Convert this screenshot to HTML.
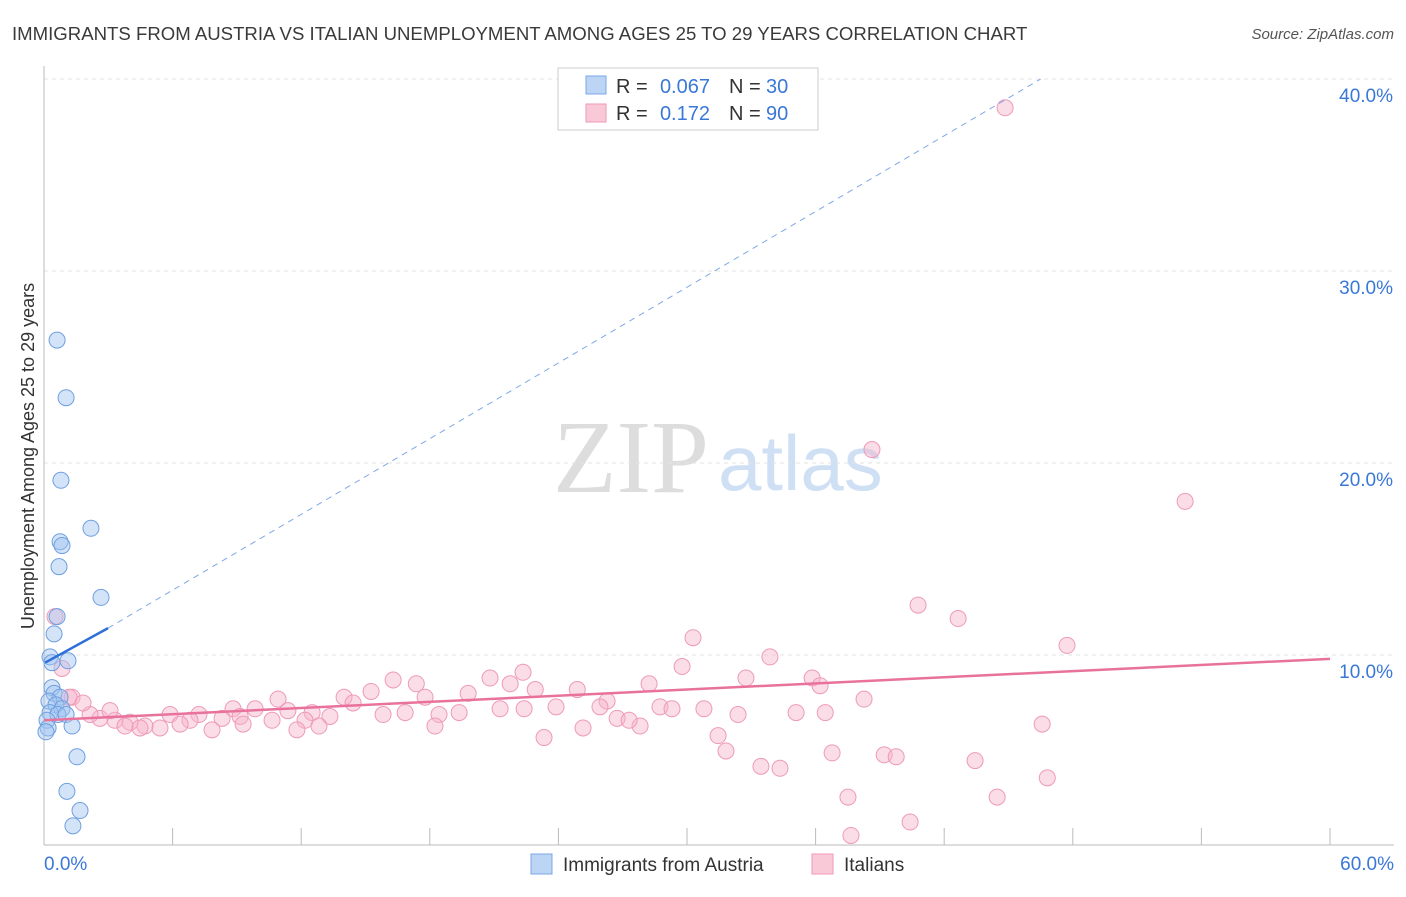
<!DOCTYPE html>
<html><head><meta charset="utf-8"><style>
body{margin:0;background:#fff;font-family:"Liberation Sans",sans-serif;}
#c{position:relative;width:1406px;height:892px;}
</style></head><body>
<div id="c">
<svg id="s" width="1406" height="892">
<text x="12" y="40" font-size="18.6" fill="#3a3a3a">IMMIGRANTS FROM AUSTRIA VS ITALIAN UNEMPLOYMENT AMONG AGES 25 TO 29 YEARS CORRELATION CHART</text>
<text x="1394" y="39" font-size="15" fill="#555" text-anchor="end" font-style="italic">Source: ZipAtlas.com</text>
<text x="34" y="456" font-size="18" fill="#333" text-anchor="middle" transform="rotate(-90 34 456)">Unemployment Among Ages 25 to 29 years</text>
<text x="553" y="492" font-size="104" fill="#ddd" font-family="Liberation Serif,serif">ZIP</text>
<text x="718" y="490" font-size="78" fill="#cfe0f5">atlas</text>
<g id="grid"></g><g id="marks"></g>
<g>
<rect x="558" y="68" width="260" height="62" fill="#fff" stroke="#ccc"/>
<rect x="586" y="76" width="20" height="18" fill="#bcd5f5" stroke="#7aa7e6"/>
<rect x="586" y="104" width="20" height="18" fill="#f9c9d8" stroke="#ee99b6"/>
<g font-size="20" fill="#333">
<text x="616" y="93">R =</text>
<text x="710" y="93" fill="#3a78d8" text-anchor="end">0.067</text>
<text x="729" y="93">N =</text>
<text x="766" y="93" fill="#3a78d8">30</text>
<text x="616" y="120">R =</text>
<text x="710" y="120" fill="#3a78d8" text-anchor="end">0.172</text>
<text x="729" y="120">N =</text>
<text x="766" y="120" fill="#3a78d8">90</text>
</g>
</g>
<g>
<rect x="531" y="854" width="21" height="20" fill="#bcd5f5" stroke="#7aa7e6"/>
<text x="563" y="871" font-size="19" fill="#333">Immigrants from Austria</text>
<rect x="812" y="854" width="21" height="20" fill="#f9c9d8" stroke="#ee99b6"/>
<text x="844" y="871" font-size="19" fill="#333">Italians</text>
</g>
</svg></div>
<script>
const xTicks=[0,6,12,18,24,30,36,42,48,54,60];
const yTicks=[10,20,30,40];
const blueX=[0.61,1.03,0.79,2.19,0.75,0.84,0.70,2.66,0.61,0.47,0.28,1.12,0.37,0.47,0.75,0.23,0.56,0.84,0.28,0.65,1.03,0.14,1.31,0.19,0.09,1.54,1.07,1.68,1.35,0.37];
const blueY=[26.4,23.4,19.1,16.6,15.9,15.7,14.6,13.0,12.0,11.1,9.9,9.7,8.3,8.0,7.8,7.6,7.4,7.2,7.0,6.9,6.9,6.6,6.3,6.2,6.0,4.7,2.9,1.9,1.1,9.6];
const pinkX=[44.84,38.63,53.24,40.78,42.65,47.73,30.28,33.87,29.77,22.35,20.81,16.29,32.75,35.84,36.21,28.23,17.37,21.75,22.92,24.88,15.26,14.0,19.79,10.92,17.78,26.27,38.26,14.42,11.38,8.82,9.85,7.23,5.88,12.51,18.43,19.37,21.28,22.40,23.89,25.94,28.74,29.30,30.79,35.09,36.45,32.38,15.82,16.85,13.34,12.18,10.64,9.15,8.31,6.81,6.35,5.41,4.71,4.01,3.31,2.61,2.15,1.31,0.84,0.51,3.78,4.48,7.84,9.29,12.83,11.80,18.24,25.15,26.74,27.81,27.30,23.33,31.45,31.82,36.77,39.20,39.76,43.44,46.57,33.45,34.34,37.51,44.47,46.81,40.41,37.65,1.17,1.82,3.08];
const pinkY=[38.5,20.7,18.0,12.6,11.9,10.5,10.9,9.9,9.4,9.1,8.8,8.7,8.8,8.8,8.4,8.5,8.5,8.5,8.2,8.2,8.1,7.8,8.0,7.7,7.8,7.6,7.7,7.5,7.1,7.2,7.2,6.9,6.9,7.0,6.9,7.0,7.2,7.2,7.3,7.3,7.3,7.2,7.2,7.0,7.0,6.9,6.9,7.0,6.8,6.6,6.6,6.8,6.7,6.6,6.4,6.2,6.3,6.5,6.6,6.7,6.9,7.8,9.3,12.0,6.3,6.2,6.1,6.4,6.3,6.1,6.3,6.2,6.7,6.3,6.6,5.7,5.8,5.0,4.9,4.8,4.7,4.5,6.4,4.2,4.1,2.6,2.6,3.6,1.3,0.6,7.8,7.5,7.1];
const blueTrend=[[0.05,9.6],[2.99,11.4],[46.5,40.0]];
const pinkTrend=[[0,6.6],[60,9.8]];
const X=v=>44+v/60*1286, Y=v=>847-v*19.2;
const NS='http://www.w3.org/2000/svg';
const grid=document.getElementById('grid'), marks=document.getElementById('marks');
function mk(tag,at,par){const e=document.createElementNS(NS,tag);for(const k in at)e.setAttribute(k,at[k]);par.appendChild(e);return e;}
yTicks.forEach(t=>{
 const l=mk('line',{x1:44,x2:1394,y1:Y(t),y2:Y(t),stroke:'#e3e3e3','stroke-dasharray':'4,4'},grid);
 
 
 const tx=mk('text',{x:1393,y:Y(t)+23,'font-size':19,fill:'#3a78d8','text-anchor':'end'},grid);tx.textContent=t.toFixed(1)+'%';
 
 
});
mk('line',{x1:44,x2:1394,y1:79,y2:79,stroke:'#e3e3e3','stroke-dasharray':'4,4'},grid);
mk('line',{x1:44,x2:44,y1:66,y2:845,stroke:'#bbb'},grid);
mk('line',{x1:44,x2:1394,y1:845,y2:845,stroke:'#bbb'},grid);
xTicks.forEach(t=>{
 const l=mk('line',{x1:X(t),x2:X(t),y1:828,y2:845,stroke:'#bbb'},grid);
 
 
});
[[0,'0.0%','start',44],[60,'60.0%','end',1394]].forEach(a=>{
 const tx=mk('text',{x:a[3],y:870,'font-size':19,fill:'#3a78d8','text-anchor':a[2]},grid);tx.textContent=a[1];
 
 
});
pinkX.forEach((v,i)=>{
 const c=mk('circle',{cx:X(v),cy:Y(pinkY[i]),r:8,fill:'rgba(246,180,202,0.45)',stroke:'#ee9ab8','stroke-width':1},marks);
 
 
});
blueX.forEach((v,i)=>{
 const c=mk('circle',{cx:X(v),cy:Y(blueY[i]),r:8,fill:'rgba(160,195,240,0.45)',stroke:'#6f9fe0','stroke-width':1},marks);
 
 
});
let l=mk('line',{x1:X(blueTrend[0][0]),y1:Y(blueTrend[0][1]),x2:X(blueTrend[1][0]),y2:Y(blueTrend[1][1]),stroke:'#2e6fd8','stroke-width':2.5},marks);


l=mk('line',{x1:X(blueTrend[1][0]),y1:Y(blueTrend[1][1]),x2:X(blueTrend[2][0]),y2:Y(blueTrend[2][1]),stroke:'#7fa8e6','stroke-width':1,'stroke-dasharray':'6,5'},marks);


l=mk('line',{x1:X(pinkTrend[0][0]),y1:Y(pinkTrend[0][1]),x2:X(pinkTrend[1][0]),y2:Y(pinkTrend[1][1]),stroke:'#e8729c','stroke-width':2.5},marks);


</script>
</body></html>
